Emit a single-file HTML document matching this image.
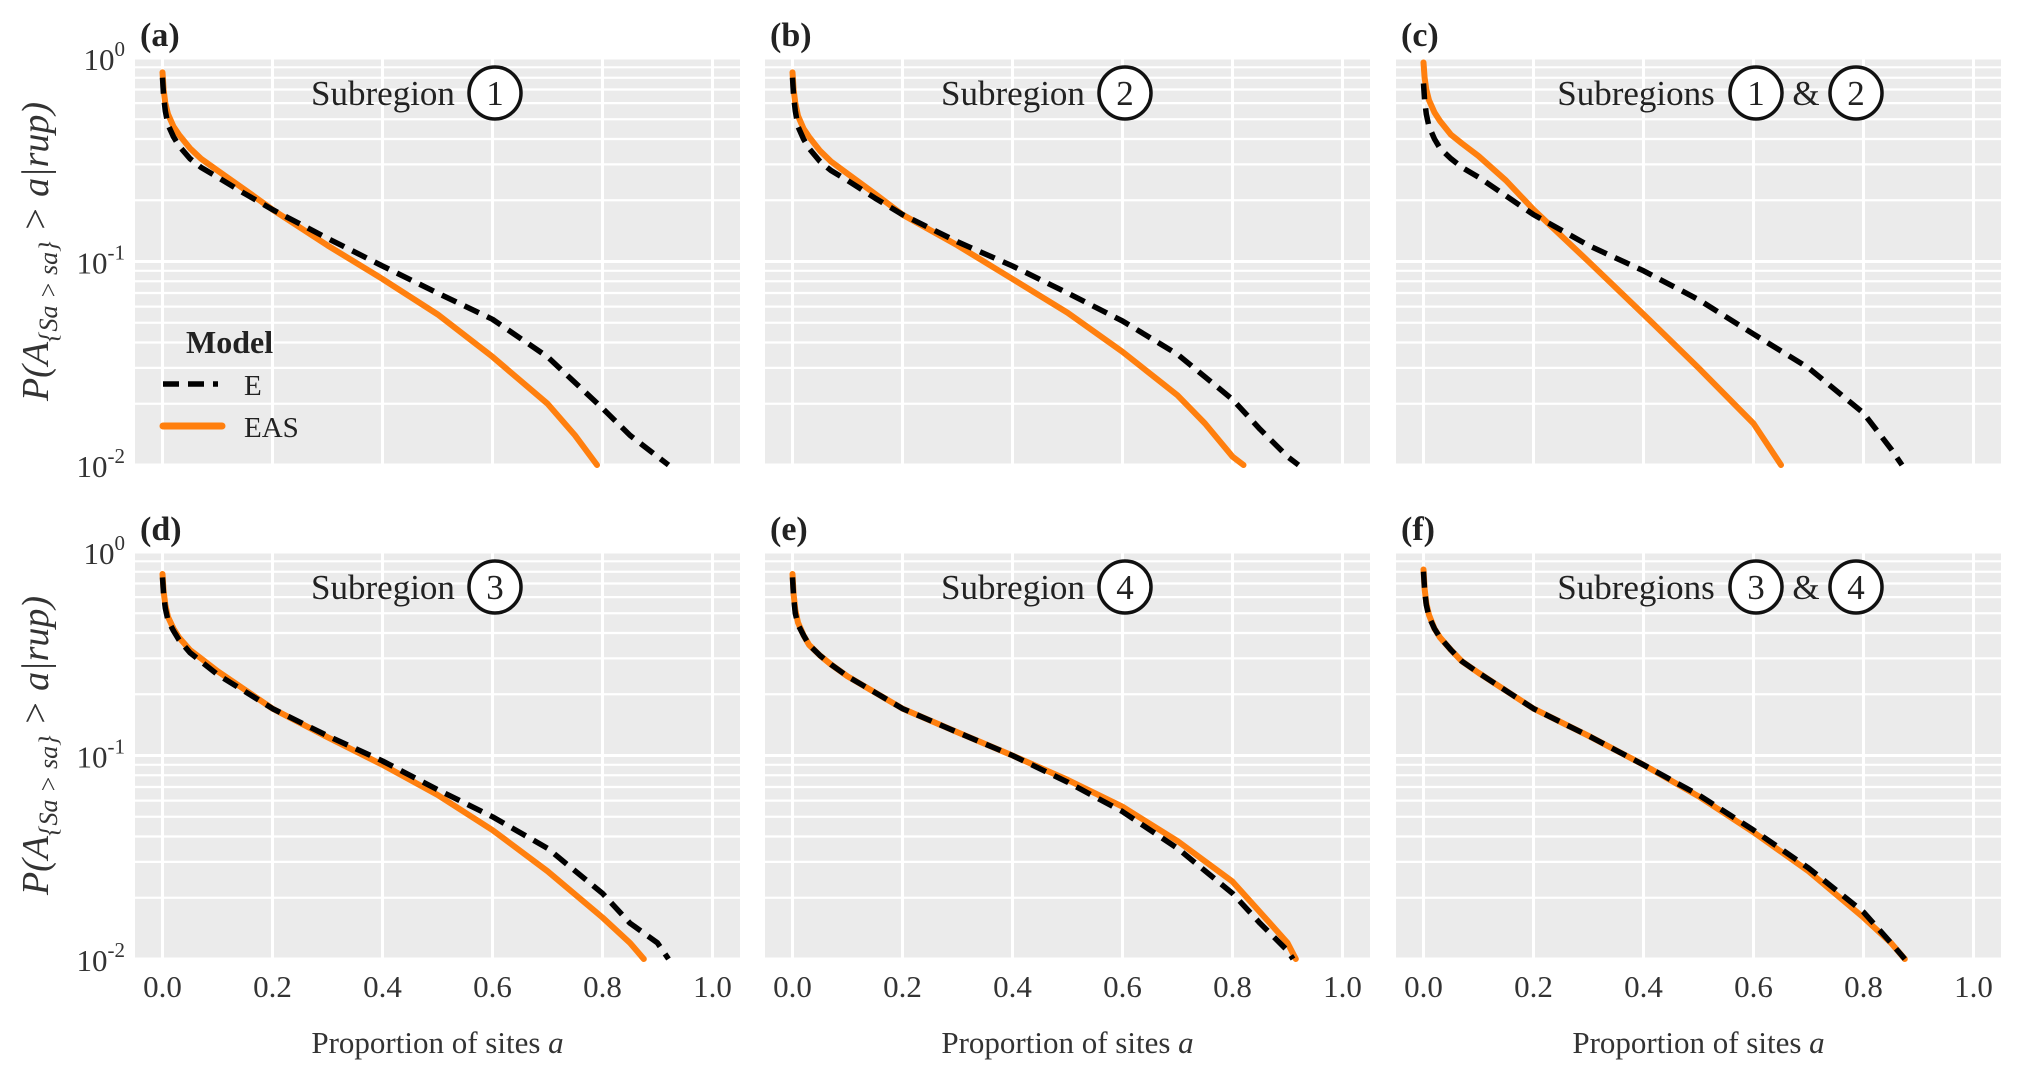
<!DOCTYPE html>
<html><head><meta charset="utf-8"><style>
html,body{margin:0;padding:0;background:#fff;}
svg{display:block;font-family:"Liberation Serif",serif;}
</style></head><body>
<svg id="chart" width="2017" height="1072" viewBox="0 0 2017 1072" xmlns="http://www.w3.org/2000/svg"></svg>
<script>
const xTicks = [0, 0.2, 0.4, 0.6, 0.8, 1.0];
const xTickLabels = ["0.0", "0.2", "0.4", "0.6", "0.8", "1.0"];
const yMajor = [0, -1, -2];
const panelLetters = ["(a)", "(b)", "(c)", "(d)", "(e)", "(f)"];
const panelRegions = [["1"], ["2"], ["1", "2"], ["3"], ["4"], ["3", "4"]];
const eX = [
 [0,0.002,0.005,0.01,0.02,0.03,0.05,0.07,0.1,0.15,0.2,0.3,0.4,0.5,0.6,0.7,0.8,0.85,0.9,0.92],
 [0,0.002,0.005,0.01,0.02,0.03,0.05,0.07,0.1,0.15,0.2,0.3,0.4,0.5,0.6,0.7,0.8,0.85,0.9,0.92],
 [0,0.002,0.005,0.01,0.02,0.03,0.05,0.07,0.1,0.2,0.3,0.4,0.5,0.6,0.7,0.8,0.85,0.87],
 [0,0.002,0.005,0.01,0.02,0.03,0.05,0.07,0.1,0.2,0.3,0.4,0.5,0.6,0.7,0.8,0.85,0.9,0.92],
 [0,0.002,0.005,0.01,0.02,0.03,0.05,0.07,0.1,0.2,0.3,0.4,0.5,0.6,0.7,0.8,0.85,0.9,0.91],
 [0,0.002,0.005,0.01,0.02,0.03,0.05,0.07,0.1,0.2,0.3,0.4,0.5,0.6,0.7,0.8,0.85,0.875]
];
const eY = [
 [0.8,0.65,0.55,0.47,0.41,0.37,0.32,0.29,0.26,0.215,0.18,0.13,0.095,0.07,0.052,0.034,0.019,0.014,0.011,0.01],
 [0.8,0.65,0.55,0.46,0.4,0.36,0.31,0.28,0.25,0.205,0.17,0.125,0.095,0.07,0.051,0.035,0.021,0.015,0.011,0.01],
 [0.75,0.62,0.53,0.46,0.4,0.36,0.32,0.29,0.26,0.17,0.12,0.09,0.065,0.044,0.03,0.018,0.012,0.01],
 [0.75,0.62,0.53,0.46,0.41,0.37,0.32,0.29,0.25,0.17,0.125,0.094,0.068,0.05,0.035,0.021,0.015,0.012,0.01],
 [0.75,0.6,0.5,0.44,0.39,0.35,0.31,0.28,0.245,0.17,0.13,0.1,0.074,0.053,0.035,0.021,0.015,0.011,0.01],
 [0.8,0.65,0.55,0.48,0.42,0.38,0.33,0.29,0.255,0.17,0.125,0.09,0.064,0.043,0.028,0.017,0.012,0.01]
];
const sX = [
 [0,0.002,0.005,0.01,0.02,0.03,0.05,0.07,0.1,0.15,0.2,0.3,0.4,0.5,0.6,0.7,0.75,0.79],
 [0,0.002,0.005,0.01,0.02,0.03,0.05,0.07,0.1,0.15,0.2,0.3,0.4,0.5,0.6,0.7,0.75,0.8,0.82],
 [0,0.002,0.005,0.01,0.02,0.03,0.05,0.07,0.1,0.15,0.2,0.3,0.4,0.5,0.6,0.65],
 [0,0.002,0.005,0.01,0.02,0.03,0.05,0.07,0.1,0.2,0.3,0.4,0.5,0.6,0.7,0.8,0.85,0.875],
 [0,0.002,0.005,0.01,0.02,0.03,0.05,0.07,0.1,0.2,0.3,0.4,0.5,0.6,0.7,0.8,0.85,0.9,0.915],
 [0,0.002,0.005,0.01,0.02,0.03,0.05,0.07,0.1,0.2,0.3,0.4,0.5,0.6,0.7,0.8,0.85,0.875]
];
const sY = [
 [0.85,0.7,0.6,0.53,0.46,0.42,0.36,0.32,0.28,0.225,0.18,0.12,0.082,0.055,0.034,0.02,0.014,0.01],
 [0.85,0.7,0.6,0.52,0.45,0.41,0.35,0.31,0.27,0.215,0.17,0.12,0.082,0.056,0.036,0.022,0.016,0.011,0.01],
 [0.95,0.8,0.7,0.62,0.54,0.49,0.42,0.38,0.33,0.25,0.18,0.1,0.055,0.03,0.016,0.01],
 [0.78,0.64,0.55,0.48,0.42,0.38,0.33,0.3,0.26,0.17,0.123,0.09,0.064,0.043,0.027,0.016,0.012,0.01],
 [0.78,0.62,0.52,0.45,0.39,0.35,0.31,0.28,0.245,0.17,0.13,0.1,0.076,0.056,0.038,0.024,0.017,0.012,0.01],
 [0.82,0.66,0.56,0.49,0.42,0.38,0.33,0.29,0.255,0.17,0.125,0.09,0.063,0.042,0.027,0.016,0.012,0.01]
];
const NS = "http://www.w3.org/2000/svg";
const svg = document.getElementById("chart");
function mk(tag, attrs, parent, text) {
  const e = document.createElementNS(NS, tag);
  for (const k in attrs) e.setAttribute(k, attrs[k]);
  if (text !== undefined) e.textContent = text;
  (parent || svg).appendChild(e);
  return e;
}
const PW = 605, PH = 407;
const colX = [135, 765, 1396];
const rowY = [58, 552];
const XMIN = -0.05, XMAX = 1.05;
for (let p = 0; p < 6; p++) {
  const L = colX[p % 3], T = rowY[Math.floor(p / 3)];
  const xs = v => L + (v - XMIN) / (XMAX - XMIN) * PW;
  const ys = v => T + (-Math.log10(v)) / 2 * PH;
  const g = mk("g", {});
  
  
  const bg = mk("rect", {x: L, y: T, width: PW, height: PH, fill: "#ebebeb"}, g);
  
  
  for (let d = 0; d < 2; d++) for (let m = 2; m <= 9; m++) {
    const y = ys(m * Math.pow(10, -d - 1));
    const ln = mk("line", {x1: L, x2: L + PW, y1: y, y2: y, stroke: "#fff", "stroke-width": 2.2}, g);
    
    
  }
  yMajor.forEach(e => {
    const y = ys(Math.pow(10, e));
    const ln = mk("line", {x1: L, x2: L + PW, y1: y, y2: y, stroke: "#fff", "stroke-width": 3}, g);
    
    
  });
  xTicks.forEach((t, i) => {
    const x = xs(t);
    const ln = mk("line", {x1: x, x2: x, y1: T, y2: T + PH, stroke: "#fff", "stroke-width": 3}, g);
    
    
    if (p >= 3) {
      const tl = mk("text", {x: x, y: T + PH + 38, "text-anchor": "middle", "font-size": 31, fill: "#333"}, g, xTickLabels[i]);
      
      
    }
  });
  if (p % 3 === 0) {
    yMajor.forEach(e => {
      const y = ys(Math.pow(10, e));
      const tl = mk("text", {x: L - 10, y: y + 12, "text-anchor": "end", "font-size": 31, fill: "#333"}, g);
      
      
      mk("tspan", {}, tl, "10");
      mk("tspan", {dy: -14, "font-size": 21}, tl, String(e));
    });
    const yt = mk("text", {transform: `translate(48,${T + PH / 2 - 10}) rotate(-90)`, "text-anchor": "middle", "font-size": 38, "font-style": "italic", fill: "#333"}, g);
    
    
    mk("tspan", {}, yt, "P(A");
    mk("tspan", {dy: 9, "font-size": 26}, yt, "{Sa > sa}");
    mk("tspan", {dy: -9}, yt, " > a|rup)");
  }
  if (p >= 3) {
    const xt = mk("text", {x: L + PW / 2, y: T + PH + 94, "text-anchor": "middle", "font-size": 31, fill: "#333"}, g);
    
    
    mk("tspan", {}, xt, "Proportion of sites ");
    mk("tspan", {"font-style": "italic"}, xt, "a");
  }
  const pl = mk("text", {x: L + 5, y: T - 12, "font-size": 34, "font-weight": "bold", fill: "#222"}, g, panelLetters[p]);
  
  
  const regs = panelRegions[p];
  const cy = T + 35;
  let cx0;
  if (regs.length === 1) {
    const t = mk("text", {x: L + 248, y: cy + 12, "text-anchor": "middle", "font-size": 35, fill: "#222"}, g, "Subregion");
    
    
    cx0 = [L + 360];
  } else {
    const t = mk("text", {x: L + 240, y: cy + 12, "text-anchor": "middle", "font-size": 35, fill: "#222"}, g, "Subregions");
    
    
    const amp = mk("text", {x: L + 410, y: cy + 12, "text-anchor": "middle", "font-size": 35, fill: "#222"}, g, "&");
    
    
    cx0 = [L + 360, L + 460];
  }
  regs.forEach((r, i) => {
    const c = mk("circle", {cx: cx0[i], cy: cy, r: 26, fill: "#fff", stroke: "#111", "stroke-width": 3.5}, g);
    
    
    const ct = mk("text", {x: cx0[i], y: cy + 12, "text-anchor": "middle", "font-size": 35, fill: "#222"}, g, r);
    
    
  });
  const ptsS = sX[p].map((x, i) => xs(x).toFixed(1) + "," + ys(sY[p][i]).toFixed(1)).join(" ");
  const ptsE = eX[p].map((x, i) => xs(x).toFixed(1) + "," + ys(eY[p][i]).toFixed(1)).join(" ");
  const ls = mk("polyline", {points: ptsS, fill: "none", stroke: "#ff7f0e", "stroke-width": 6, "stroke-linejoin": "round", "stroke-linecap": "round"}, g);
  
  
  const le = mk("polyline", {points: ptsE, fill: "none", stroke: "#000", "stroke-width": 5.5, "stroke-dasharray": "16 9", "stroke-linejoin": "round"}, g);
  
  
  if (p === 0) {
    const lg = mk("g", {}, g);
    
    
    const lt = mk("text", {x: 186, y: 353, "font-size": 32, "font-weight": "bold", fill: "#222"}, lg, "Model");
    
    
    const l1 = mk("line", {x1: 163, x2: 218, y1: 384, y2: 384, stroke: "#000", "stroke-width": 5.5, "stroke-dasharray": "16 9"}, lg);
    
    
    const t1 = mk("text", {x: 244, y: 395, "font-size": 29, fill: "#222"}, lg, "E");
    
    
    const l2 = mk("line", {x1: 163, x2: 222, y1: 426, y2: 426, stroke: "#ff7f0e", "stroke-width": 7, "stroke-linecap": "round"}, lg);
    
    
    const t2 = mk("text", {x: 244, y: 437, "font-size": 29, fill: "#222"}, lg, "EAS");
    
    
  }
}
</script>
</body></html>
